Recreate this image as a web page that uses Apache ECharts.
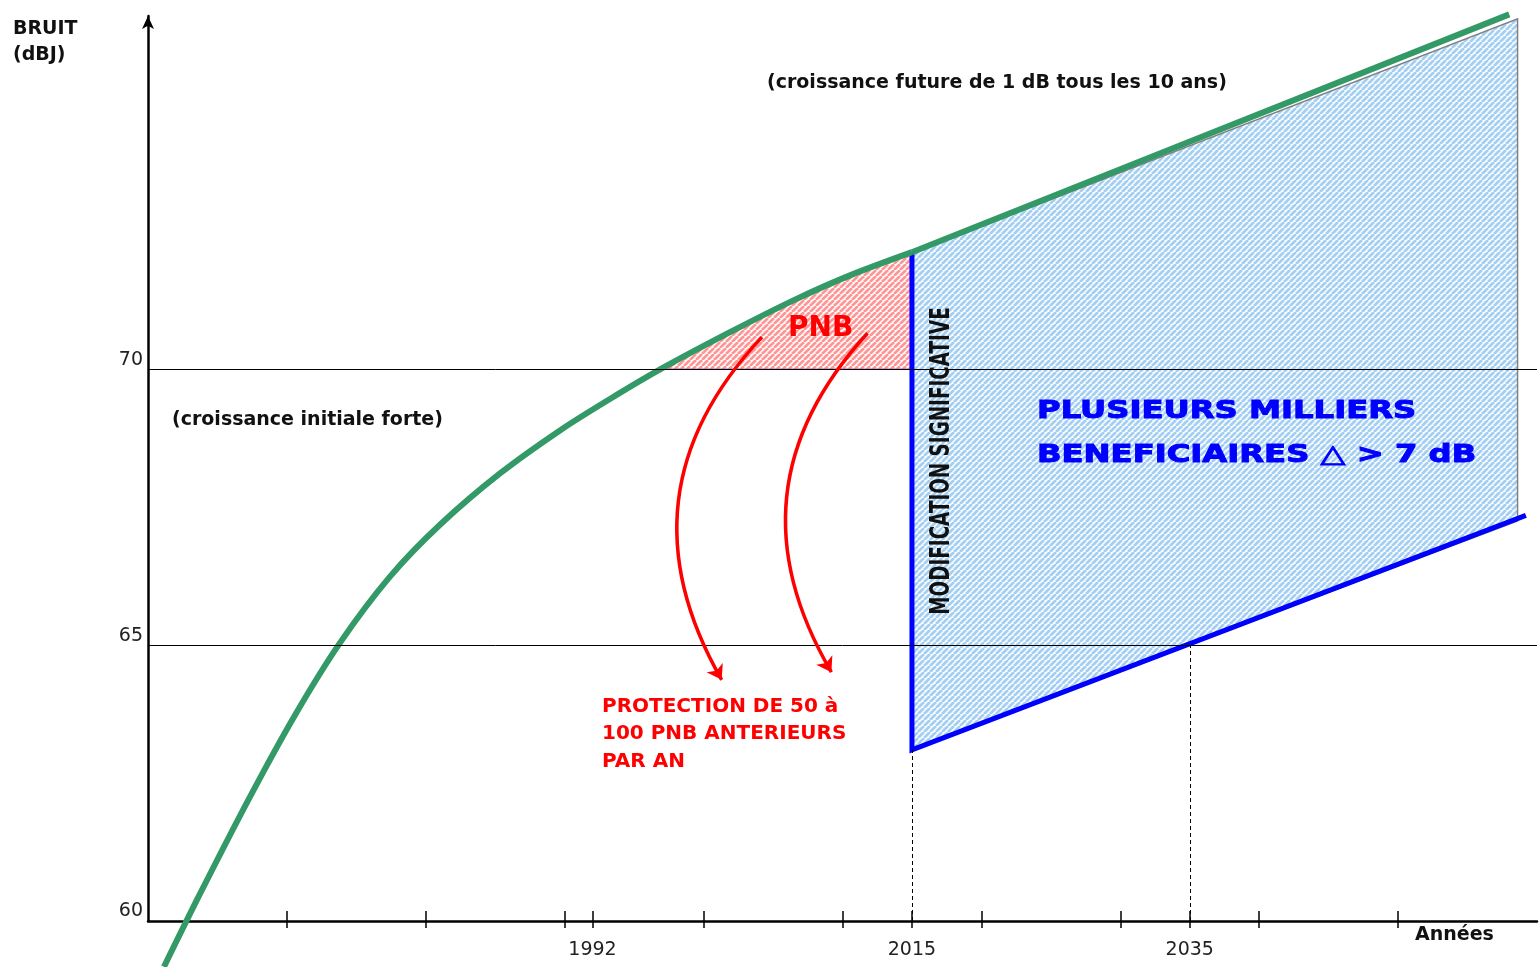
<!DOCTYPE html>
<html>
<head>
<meta charset="utf-8">
<script src="https://cdn.jsdelivr.net/npm/echarts@6/dist/echarts.min.js"></script>
<style>
  html, body { margin: 0; padding: 0; background: #fff; }
  #chart { width: 1539px; height: 967px; }
</style>
</head>
<body>
<div id="chart"></div>
<script>
// noise growth curve (green)
const greenYears  = [1961.15, 1963.74, 1967.34, 1970.58, 1973.82, 1977.42, 1981.02, 1985.34, 1989.66, 1993.26, 1996.9, 2001.9, 2006.58, 2010.54, 2015.0, 2058.0];
const greenLevels = [59.17, 60.49, 62.25, 63.73, 65.04, 66.24, 67.18, 68.11, 68.89, 69.46, 70.0, 70.67, 71.26, 71.70, 72.12, 76.43];

// blue line: significant modification in 2015, then slow growth
const blueYears  = [2015, 2015, 2059.2];
const blueLevels = [72.1, 63.1, 67.35];

// beneficiaries area (blue hatch)
const areaYears  = [2015, 2015, 2058.6, 2058.6];
const areaLevels = [63.1, 72.1, 76.35, 67.25];

// PNB area lies between the 70 dB threshold and the curve, up to 2015
const pnbBase = 70;
const pnbStart = 1996.9;
const pnbEnd = 2015;

const thresholds = [65, 70];
const dropYears  = [2015, 2035];
const dropLevels = [63.1, 65];

const tickYears  = [1970, 1980, 1990, 1992, 2000, 2010, 2015, 2020, 2030, 2035, 2040, 2050];
const labelYears = [1992, 2015, 2035];
const levelLabels = [60, 65, 70];

// red arrows (start, end)
const arrowStarts = [[2004.2, 70.58], [2011.8, 70.65]];
const arrowEnds   = [[2001.3, 64.37], [2009.2, 64.51]];

const FONT = '"DejaVu Sans", sans-serif';

function hatch(bg, fg, size, width) {
    const c = document.createElement('canvas');
    c.width = size; c.height = size;
    const g = c.getContext('2d');
    g.fillStyle = bg;
    g.fillRect(0, 0, size, size);
    g.strokeStyle = fg;
    g.lineWidth = width;
    g.beginPath();
    for (let k = -1; k <= 1; k++) {
        g.moveTo(k * size, size);
        g.lineTo(k * size + size, 0);
    }
    g.stroke();
    return c;
}

const blueHatch = { image: hatch('#ffffff', '#a3cff3', 6, 2.8), repeat: 'repeat' };
const redHatch  = { image: hatch('#ffffff', '#ff9696', 6, 2.7), repeat: 'repeat' };

const greenData = greenYears.map((x, i) => [x, greenLevels[i]]);
const bendIdx = greenYears.indexOf(2015.0);
const greenCurve = greenData.slice(0, bendIdx + 1);
const greenStraight = greenData.slice(bendIdx);
const blueData = blueYears.map((x, i) => [x, blueLevels[i]]);
const areaPts = areaYears.map((x, i) => [x, areaLevels[i]]);
const pnbPts = greenData.filter(p => p[0] >= pnbStart && p[0] <= pnbEnd).concat([[pnbEnd, pnbBase]]);

function polygonSeries(pts, fill, stroke, z) {
    return {
        type: 'custom',
        z: z,
        silent: true,
        data: [pts[0]],
        renderItem: function (params, api) {
            return {
                type: 'polygon',
                shape: { points: pts.map(p => api.coord(p)) },
                style: { fill: fill, stroke: stroke, lineWidth: 1.5 }
            };
        }
    };
}

function tickAxis(inside, length) {
    return {
        type: 'value',
        min: 1960,
        max: 2060,
        position: 'bottom',
        axisLine: { show: false },
        axisTick: { show: true, inside: inside, customValues: tickYears, length: length, lineStyle: { color: '#000', width: 1.5 } },
        axisLabel: { show: false },
        splitLine: { show: false }
    };
}

const chart = echarts.init(document.getElementById('chart'));

const option = {
    animation: false,
    grid: { left: 148, right: 2, top: 16, bottom: 46 },
    xAxis: [{
        type: 'value',
        min: 1960,
        max: 2060,
        position: 'bottom',
        axisLine: { show: true, lineStyle: { color: '#000', width: 2.5 } },
        axisTick: { show: false },
        axisLabel: {
            customValues: labelYears, margin: 20,
            formatter: v => String(v),
            color: '#222', fontSize: 19, fontFamily: FONT
        },
        splitLine: { show: false }
    }, tickAxis(false, 7), tickAxis(true, 10)],
    yAxis: {
        type: 'value',
        min: 60,
        max: 76.4,
        axisLine: {
            show: true,
            symbol: ['none', 'arrow'],
            symbolSize: [9, 13],
            lineStyle: { color: '#000', width: 2.5 }
        },
        axisTick: { show: false },
        axisLabel: {
            customValues: levelLabels, margin: 5, verticalAlign: 'bottom',
            color: '#222', fontSize: 19, fontFamily: FONT
        },
        splitLine: { show: false }
    },
    graphic: [
        { type: 'text', x: 13, y: 42, style: { text: 'BRUIT\n(dBJ)', fontSize: 19, fontWeight: 'bold', fontFamily: FONT, fill: '#111', lineHeight: 26, align: 'left', verticalAlign: 'middle' } },
        { type: 'text', x: 1415, y: 935, style: { text: 'Années', fontSize: 19, fontWeight: 'bold', fontFamily: FONT, fill: '#111', align: 'left', verticalAlign: 'middle' } },
        { type: 'text', x: 767, y: 83, style: { text: '(croissance future de 1 dB tous les 10 ans)', fontSize: 19, fontWeight: 'bold', fontFamily: FONT, fill: '#111', align: 'left', verticalAlign: 'middle' } },
        { type: 'text', x: 172, y: 420, style: { text: '(croissance initiale forte)', fontSize: 19, fontWeight: 'bold', fontFamily: FONT, fill: '#111', align: 'left', verticalAlign: 'middle' } },
        { type: 'text', z: 10, x: 788, y: 329, style: { text: 'PNB', fontSize: 28, fontWeight: 'bold', fontFamily: FONT, fill: '#ff0000', align: 'left', verticalAlign: 'middle' } },
        { type: 'text', z: 10, x: 942, y: 461, rotation: Math.PI / 2, scaleX: 0.68, style: { text: 'MODIFICATION SIGNIFICATIVE', fontSize: 27, fontWeight: 'bold', fontFamily: FONT, fill: '#111', align: 'center', verticalAlign: 'middle' } },
        { type: 'text', z: 10, x: 1037, y: 411, scaleX: 1.29, style: { text: 'PLUSIEURS MILLIERS', fontSize: 25, fontWeight: 'bold', fontFamily: FONT, fill: '#0000ff', stroke: '#0000ff', lineWidth: 1, align: 'left', verticalAlign: 'middle' } },
        { type: 'text', z: 10, x: 1037, y: 455, scaleX: 1.29, style: { text: 'BENEFICIAIRES \u25B3 > 7 dB', fontSize: 25, fontWeight: 'bold', fontFamily: FONT, fill: '#0000ff', stroke: '#0000ff', lineWidth: 1, align: 'left', verticalAlign: 'middle' } },
        { type: 'text', z: 10, x: 602, y: 734, style: { text: 'PROTECTION DE 50 à\n100 PNB ANTERIEURS\nPAR AN', fontSize: 20, fontWeight: 'bold', fontFamily: FONT, fill: '#ff0000', lineHeight: 27.5, align: 'left', verticalAlign: 'middle' } }
    ],
    series: [
        polygonSeries(areaPts, blueHatch, '#808080', 1),
        polygonSeries(pnbPts, redHatch, '#b060b0', 1),
        {
            type: 'line',
            z: 2,
            data: [],
            silent: true,
            markLine: {
                silent: true,
                symbol: ['none', 'none'],
                label: { show: false },
                animation: false,
                data: thresholds.map(v => ({ yAxis: v, lineStyle: { color: '#000', width: 1, type: 'solid' } }))
                    .concat(dropYears.map((x, i) => [
                        { coord: [x, 60], lineStyle: { color: '#000', width: 1, type: [4, 3] } },
                        { coord: [x, dropLevels[i]] }
                    ]))
            }
        },
        {
            type: 'line',
            z: 3,
            data: blueData,
            showSymbol: false,
            silent: true,
            lineStyle: { color: '#0000ff', width: 5, join: 'miter' }
        },
        {
            type: 'line',
            z: 4,
            data: greenCurve,
            smooth: 0.3,
            clip: false,
            showSymbol: false,
            silent: true,
            lineStyle: { color: '#339966', width: 6 }
        },
        {
            type: 'line',
            z: 4,
            data: greenStraight,
            clip: false,
            showSymbol: false,
            silent: true,
            lineStyle: { color: '#339966', width: 6 }
        },
        {
            type: 'lines',
            z: 5,
            coordinateSystem: 'cartesian2d',
            silent: true,
            symbol: ['none', 'arrow'],
            symbolSize: 14,
            lineStyle: { color: '#ff0000', width: 3.5, curveness: -0.37, opacity: 1 },
            data: arrowStarts.map((s, i) => ({ coords: [s, arrowEnds[i]] }))
        }
    ]
};

chart.setOption(option);
</script>
</body>
</html>
